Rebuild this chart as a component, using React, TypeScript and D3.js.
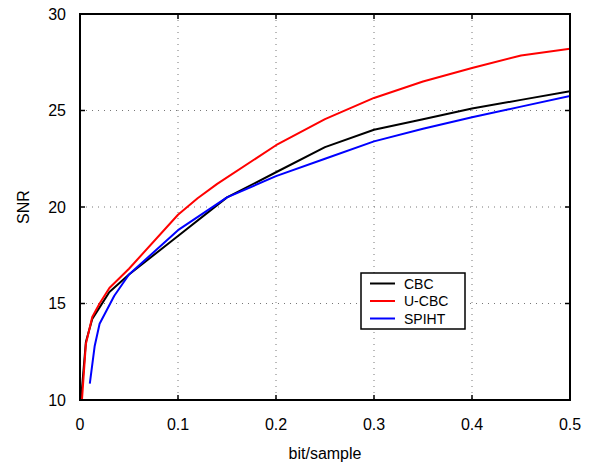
import React from "react";
import * as d3 from "d3";

// Rate–distortion curves: SNR versus bit rate
const cbcRate = [0.001, 0.006, 0.0125, 0.02, 0.03, 0.05, 0.1, 0.15, 0.2, 0.25, 0.3, 0.35, 0.4, 0.45, 0.5];
const cbcSnr = [10, 13.0, 14.2, 14.8, 15.6, 16.5, 18.5, 20.5, 21.8, 23.1, 24.0, 24.55, 25.1, 25.55, 26.0];

const ucbcRate = [0.002, 0.006, 0.0125, 0.02, 0.03, 0.05, 0.1, 0.12, 0.14, 0.2, 0.25, 0.3, 0.35, 0.4, 0.45, 0.5];
const ucbcSnr = [10, 12.9, 14.3, 15.0, 15.8, 16.8, 19.6, 20.45, 21.2, 23.2, 24.55, 25.65, 26.5, 27.2, 27.85, 28.2];

const spihtRate = [0.01, 0.015, 0.02, 0.035, 0.05, 0.1, 0.15, 0.2, 0.25, 0.3, 0.35, 0.4, 0.45, 0.5];
const spihtSnr = [10.85, 12.8, 13.95, 15.4, 16.5, 18.8, 20.5, 21.6, 22.5, 23.4, 24.05, 24.65, 25.2, 25.75];

const xTicks = [0, 0.1, 0.2, 0.3, 0.4, 0.5];
const yTicks = [10, 15, 20, 25, 30];
const seriesNames = ["CBC", "U-CBC", "SPIHT"];
const seriesColors = ["#000000", "#ff0000", "#0000ff"];

const W = 597;
const H = 467;
const left = 80;
const right = 570;
const top = 14;
const bottom = 400;
const font = "'Liberation Sans', Arial, Helvetica, sans-serif";

export default function App() {
  const x = d3.scaleLinear().domain([0, 0.5]).range([left, right]);
  const y = d3.scaleLinear().domain([10, 30]).range([bottom, top]);
  const line = d3
    .line<[number, number]>()
    .x((d) => x(d[0]))
    .y((d) => y(d[1]));

  const series: [number, number][][] = [
    cbcRate.map((r, i) => [r, cbcSnr[i]]),
    ucbcRate.map((r, i) => [r, ucbcSnr[i]]),
    spihtRate.map((r, i) => [r, spihtSnr[i]]),
  ];

  const tickLen = 5;
  const legX = 361;
  const legY = 273;

  return (
    <svg
      width={W}
      height={H}
      style={{ position: "absolute", left: 0, top: 0, background: "#fff" }}
      fontFamily={font}
    >
      {/* dotted grid */}
      {xTicks.slice(1, -1).map((t) => (
        <line key={"gx" + t} x1={x(t)} x2={x(t)} y1={top} y2={bottom} stroke="#777" strokeWidth={1} strokeDasharray="1,5" />
      ))}
      {yTicks.slice(1, -1).map((t) => (
        <line key={"gy" + t} x1={left} x2={right} y1={y(t)} y2={y(t)} stroke="#777" strokeWidth={1} strokeDasharray="1,5" />
      ))}

      {/* curves */}
      <g clipPath="url(#plotClip)">
        {series.map((s, i) => (
          <path key={i} d={line(s) || ""} fill="none" stroke={seriesColors[i]} strokeWidth={2} strokeLinejoin="round" />
        ))}
      </g>
      <defs>
        <clipPath id="plotClip">
          <rect x={left} y={top} width={right - left} height={bottom - top} />
        </clipPath>
      </defs>

      {/* ticks on all four sides */}
      {xTicks.map((t) => (
        <g key={"tx" + t}>
          <line x1={x(t)} x2={x(t)} y1={bottom} y2={bottom - tickLen} stroke="#000" strokeWidth={1.5} />
          <line x1={x(t)} x2={x(t)} y1={top} y2={top + tickLen} stroke="#000" strokeWidth={1.5} />
          <text x={x(t)} y={bottom + 30} textAnchor="middle" fontSize={16} fill="#000">
            {t === 0 ? "0" : d3.format(".1f")(t)}
          </text>
        </g>
      ))}
      {yTicks.map((t) => (
        <g key={"ty" + t}>
          <line x1={left} x2={left + tickLen} y1={y(t)} y2={y(t)} stroke="#000" strokeWidth={1.5} />
          <line x1={right} x2={right - tickLen} y1={y(t)} y2={y(t)} stroke="#000" strokeWidth={1.5} />
          <text x={left - 14} y={y(t)} dy="0.36em" textAnchor="end" fontSize={16} fill="#000">
            {t}
          </text>
        </g>
      ))}

      {/* axes box */}
      <rect x={left} y={top} width={right - left} height={bottom - top} fill="none" stroke="#000" strokeWidth={2} />

      {/* axis labels */}
      <text x={(left + right) / 2} y={459} textAnchor="middle" fontSize={16} fill="#000">
        bit/sample
      </text>
      <text transform={`translate(29,${(top + bottom) / 2}) rotate(-90)`} textAnchor="middle" fontSize={16} fill="#000">
        SNR
      </text>

      {/* legend */}
      <rect x={legX} y={legY} width={104} height={56} fill="#fff" stroke="#000" strokeWidth={1.5} />
      {seriesNames.map((name, i) => (
        <g key={name} transform={`translate(${legX},${legY + 10.5 + i * 17.5})`}>
          <line x1={9} x2={34} y1={0} y2={0} stroke={seriesColors[i]} strokeWidth={2} />
          <text x={43} y={0} dy="0.36em" fontSize={14} fill="#000">
            {name}
          </text>
        </g>
      ))}
    </svg>
  );
}
